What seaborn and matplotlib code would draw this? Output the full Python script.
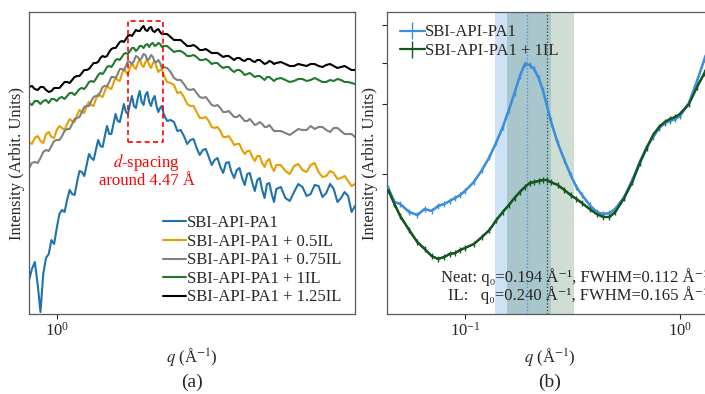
import matplotlib
matplotlib.use("Agg")
import numpy as np
import pandas as pd
import matplotlib.pyplot as plt
import seaborn as sns
from matplotlib.ticker import FixedLocator, NullLocator, NullFormatter, LogFormatterMathtext

# ---------------- data: panel (a) WAXS ----------------
q_waxs = [0.90, 0.91, 0.92, 0.93, 0.94, 0.95, 0.96, 0.97, 0.98, 0.99,
          1.00, 1.01, 1.02, 1.03, 1.04, 1.05, 1.06, 1.07, 1.08, 1.09,
          1.10, 1.11, 1.12, 1.13, 1.14, 1.15, 1.16, 1.17, 1.18, 1.19,
          1.20, 1.21, 1.22, 1.23, 1.24, 1.25, 1.26, 1.27, 1.28, 1.29,
          1.30, 1.31, 1.32, 1.33, 1.34, 1.35, 1.36, 1.37, 1.38, 1.39,
          1.40, 1.41, 1.42, 1.43, 1.44, 1.45, 1.46, 1.47, 1.48, 1.49,
          1.50, 1.52, 1.54, 1.56, 1.58, 1.60, 1.62, 1.64, 1.66, 1.68,
          1.70, 1.72, 1.74, 1.76, 1.78, 1.80, 1.82, 1.84, 1.86, 1.88,
          1.90, 1.92, 1.94, 1.96, 1.98, 2.00, 2.02, 2.04, 2.06, 2.08,
          2.10, 2.12, 2.14, 2.16, 2.18, 2.20, 2.22, 2.24, 2.26, 2.28,
          2.30, 2.34, 2.38, 2.42, 2.46, 2.50, 2.54, 2.58, 2.62, 2.66,
          2.70, 2.74, 2.78, 2.82, 2.86, 2.90, 2.94, 2.98, 3.02, 3.06,
          3.10]
I_neat = [0.34, 0.45, 0.52, 0.30, 0.02, 0.40, 0.56, 0.60, 0.74, 0.70,
          0.86, 1.00, 1.04, 1.02, 1.14, 1.24, 1.20, 1.19, 1.32, 1.43,
          1.42, 1.38, 1.49, 1.60, 1.56, 1.54, 1.64, 1.74, 1.68, 1.67,
          1.78, 1.88, 1.80, 1.80, 1.90, 2.00, 1.93, 1.92, 2.01, 2.10,
          2.02, 2.00, 2.10, 2.18, 2.08, 2.06, 2.16, 2.23, 2.12, 2.09,
          2.19, 2.22, 2.12, 2.08, 2.15, 2.18, 2.08, 2.02, 2.06, 2.08,
          2.00, 1.93, 1.94, 1.92, 1.83, 1.84, 1.78, 1.70, 1.74, 1.75,
          1.66, 1.59, 1.64, 1.65, 1.57, 1.49, 1.54, 1.56, 1.47, 1.41,
          1.51, 1.52, 1.42, 1.36, 1.44, 1.46, 1.36, 1.29, 1.40, 1.41,
          1.31, 1.23, 1.34, 1.36, 1.24, 1.16, 1.30, 1.31, 1.20, 1.12,
          1.25, 1.27, 1.16, 1.13, 1.22, 1.30, 1.27, 1.18, 1.20, 1.29,
          1.28, 1.17, 1.21, 1.30, 1.25, 1.12, 1.16, 1.22, 1.18, 1.02,
          1.08]
I_05IL = [1.72, 1.70, 1.76, 1.78, 1.73, 1.71, 1.80, 1.82, 1.77, 1.76,
          1.84, 1.88, 1.86, 1.84, 1.90, 1.95, 1.93, 1.92, 1.99, 2.04,
          2.02, 2.01, 2.08, 2.12, 2.09, 2.08, 2.15, 2.20, 2.18, 2.17,
          2.23, 2.28, 2.26, 2.25, 2.31, 2.36, 2.34, 2.33, 2.40, 2.45,
          2.42, 2.40, 2.46, 2.51, 2.47, 2.45, 2.51, 2.55, 2.49, 2.47,
          2.52, 2.55, 2.49, 2.46, 2.51, 2.53, 2.47, 2.42, 2.44, 2.45,
          2.39, 2.32, 2.31, 2.29, 2.21, 2.22, 2.17, 2.10, 2.08, 2.08,
          2.02, 1.96, 1.96, 1.97, 1.93, 1.87, 1.86, 1.87, 1.83, 1.77,
          1.77, 1.78, 1.74, 1.69, 1.70, 1.70, 1.64, 1.60, 1.63, 1.63,
          1.57, 1.53, 1.58, 1.58, 1.51, 1.47, 1.53, 1.55, 1.47, 1.43,
          1.49, 1.49, 1.43, 1.40, 1.48, 1.50, 1.44, 1.42, 1.49, 1.51,
          1.42, 1.37, 1.38, 1.43, 1.41, 1.35, 1.36, 1.38, 1.33, 1.28,
          1.30]
I_075IL = [1.46, 1.51, 1.52, 1.51, 1.56, 1.62, 1.64, 1.63, 1.68, 1.73,
           1.74, 1.74, 1.78, 1.83, 1.85, 1.85, 1.90, 1.95, 1.96, 1.97,
           2.02, 2.07, 2.08, 2.08, 2.13, 2.17, 2.18, 2.18, 2.22, 2.27,
           2.28, 2.28, 2.32, 2.37, 2.37, 2.36, 2.40, 2.45, 2.45, 2.44,
           2.48, 2.53, 2.52, 2.50, 2.53, 2.58, 2.57, 2.54, 2.56, 2.60,
           2.59, 2.54, 2.55, 2.59, 2.57, 2.52, 2.52, 2.54, 2.51, 2.46,
           2.47, 2.46, 2.42, 2.36, 2.34, 2.34, 2.30, 2.25, 2.24, 2.25,
           2.21, 2.17, 2.16, 2.17, 2.13, 2.09, 2.08, 2.09, 2.06, 2.02,
           2.02, 2.03, 2.00, 1.97, 1.97, 1.99, 1.96, 1.93, 1.93, 1.95,
           1.92, 1.89, 1.90, 1.92, 1.90, 1.87, 1.87, 1.89, 1.86, 1.83,
           1.83, 1.83, 1.81, 1.79, 1.82, 1.85, 1.84, 1.84, 1.88, 1.85,
           1.87, 1.87, 1.84, 1.82, 1.86, 1.86, 1.83, 1.80, 1.80, 1.80,
           1.77]
I_1IL = [2.11, 2.09, 2.13, 2.13, 2.10, 2.13, 2.14, 2.11, 2.15, 2.15,
         2.13, 2.16, 2.17, 2.15, 2.18, 2.21, 2.21, 2.19, 2.22, 2.25,
         2.26, 2.25, 2.28, 2.32, 2.33, 2.32, 2.35, 2.39, 2.41, 2.40,
         2.43, 2.47, 2.48, 2.47, 2.50, 2.54, 2.55, 2.54, 2.57, 2.60,
         2.61, 2.60, 2.63, 2.66, 2.66, 2.63, 2.65, 2.68, 2.68, 2.66,
         2.69, 2.70, 2.67, 2.70, 2.71, 2.68, 2.69, 2.71, 2.70, 2.67,
         2.68, 2.68, 2.65, 2.62, 2.63, 2.63, 2.61, 2.58, 2.58, 2.59,
         2.57, 2.54, 2.54, 2.55, 2.53, 2.50, 2.51, 2.51, 2.48, 2.46,
         2.47, 2.47, 2.44, 2.42, 2.44, 2.44, 2.42, 2.39, 2.40, 2.41,
         2.39, 2.37, 2.38, 2.38, 2.36, 2.34, 2.37, 2.37, 2.35, 2.33,
         2.35, 2.36, 2.34, 2.32, 2.33, 2.35, 2.35, 2.33, 2.34, 2.36,
         2.34, 2.32, 2.32, 2.34, 2.33, 2.35, 2.34, 2.32, 2.32, 2.31,
         2.30]
I_125IL = [2.27, 2.28, 2.25, 2.24, 2.27, 2.27, 2.24, 2.22, 2.23, 2.26,
           2.26, 2.26, 2.29, 2.32, 2.32, 2.31, 2.34, 2.37, 2.38, 2.38,
           2.41, 2.44, 2.44, 2.45, 2.48, 2.51, 2.51, 2.52, 2.56, 2.58,
           2.57, 2.58, 2.62, 2.65, 2.66, 2.66, 2.69, 2.72, 2.73, 2.72,
           2.75, 2.78, 2.79, 2.78, 2.81, 2.84, 2.83, 2.83, 2.86, 2.88,
           2.84, 2.83, 2.86, 2.87, 2.83, 2.82, 2.84, 2.85, 2.82, 2.80,
           2.80, 2.80, 2.77, 2.74, 2.74, 2.74, 2.71, 2.68, 2.68, 2.69,
           2.67, 2.64, 2.64, 2.65, 2.63, 2.61, 2.61, 2.61, 2.59, 2.57,
           2.58, 2.58, 2.56, 2.54, 2.56, 2.56, 2.54, 2.53, 2.55, 2.55,
           2.53, 2.52, 2.54, 2.54, 2.52, 2.50, 2.51, 2.53, 2.52, 2.50,
           2.51, 2.52, 2.50, 2.48, 2.48, 2.50, 2.49, 2.48, 2.50, 2.50,
           2.48, 2.47, 2.49, 2.50, 2.48, 2.46, 2.47, 2.48, 2.46, 2.44,
           2.44]
labels_a = ["SBI-API-PA1", "SBI-API-PA1 + 0.5IL", "SBI-API-PA1 + 0.75IL",
            "SBI-API-PA1 + 1IL", "SBI-API-PA1 + 1.25IL"]
colors_a = ["#1f72b0", "#e69f00", "#808080", "#1f7a2e", "#000000"]
d_range = [4.8, 4.2]          # d-spacing window (Å) marked by dashed box
d_center = 4.47

# ---------------- data: panel (b) SAXS ----------------
q_saxs = [0.044, 0.047, 0.05, 0.055, 0.06, 0.065, 0.07, 0.075, 0.08, 0.085, 0.09, 0.095, 0.1,
          0.11, 0.12, 0.13, 0.14, 0.15, 0.16, 0.17, 0.18, 0.19, 0.2, 0.21, 0.22, 0.23, 0.24,
          0.25, 0.27, 0.29, 0.31, 0.33, 0.35, 0.38, 0.41, 0.44, 0.47, 0.5, 0.55, 0.6, 0.65,
          0.7, 0.75, 0.8, 0.85, 0.9, 0.95, 1.0, 1.1, 1.2, 1.3, 1.42]
S_neat = [1.26, 1.12, 1.10, 1.02, 0.99, 1.05, 1.03, 1.08, 1.10, 1.13, 1.16, 1.19, 1.23,
          1.32, 1.44, 1.57, 1.72, 1.87, 2.04, 2.21, 2.38, 2.50, 2.49, 2.45, 2.36, 2.24, 2.09,
          1.94, 1.71, 1.54, 1.39, 1.27, 1.19, 1.09, 1.02, 1.00, 1.01, 1.05, 1.17, 1.34, 1.52,
          1.67, 1.77, 1.86, 1.91, 1.93, 1.95, 1.98, 2.11, 2.33, 2.55, 2.78]
S_IL = [1.24, 1.10, 0.98, 0.84, 0.72, 0.65, 0.58, 0.55, 0.57, 0.60, 0.61, 0.64, 0.66,
        0.70, 0.77, 0.84, 0.94, 1.02, 1.09, 1.16, 1.22, 1.27, 1.31, 1.32, 1.33, 1.34, 1.34,
        1.32, 1.29, 1.24, 1.19, 1.15, 1.11, 1.05, 1.00, 0.97, 0.97, 1.02, 1.16, 1.32, 1.51,
        1.66, 1.79, 1.87, 1.92, 1.95, 1.97, 2.00, 2.10, 2.27, 2.41, 2.60]
err_neat = 0.03
err_IL = 0.03
neat_q0, neat_fwhm = 0.194, 0.112
il_q0, il_fwhm = 0.240, 0.165
labels_b = ["SBI-API-PA1", "SBI-API-PA1 + 1IL"]
colors_b = ["#3b8fdc", "#14561f"]

# ---------------- style ----------------
sns.set_theme(style="ticks")
plt.rcParams['font.family'] = ['Liberation Serif', 'DejaVu Serif']
plt.rcParams['mathtext.fontset'] = 'stix'
plt.rcParams['axes.edgecolor'] = '0.35'
plt.rcParams['axes.linewidth'] = 0.9

fig = plt.figure(figsize=(7.05, 3.94), dpi=100)
W, H = 705.0, 394.0
ax1 = fig.add_axes([29 / W, (H - 314) / H, 326 / W, 302 / H])
ax2 = fig.add_axes([387 / W, (H - 314) / H, 326 / W, 302 / H])

# ---------------- panel (a) ----------------
series = [I_neat, I_05IL, I_075IL, I_1IL, I_125IL]
df = pd.concat([pd.DataFrame({"q": q_waxs, "I": s, "sample": lab})
                for s, lab in zip(series, labels_a)], ignore_index=True)
sns.lineplot(data=df, x="q", y="I", hue="sample", hue_order=labels_a,
             palette=colors_a, estimator=None, sort=False, lw=1.5, ax=ax1)
ax1.set_xscale("log")
ax1.set_xlim(0.9, 3.1)
ax1.set_ylim(0, 3.02)
ax1.xaxis.set_major_locator(FixedLocator([1.0]))
ax1.xaxis.set_major_formatter(LogFormatterMathtext())
ax1.xaxis.set_minor_locator(NullLocator())
ax1.set_yticks([])
ax1.tick_params(axis="x", direction="out", length=3.5, width=0.8, labelsize=12, pad=2)
ax1.set_xlabel(r"$q$ (Å$^{-1}$)", fontsize=12, labelpad=5)
ax1.set_ylabel("Intensity (Arbit. Units)", fontsize=12, labelpad=3)

q_lo, q_hi = 2 * np.pi / d_range[0], 2 * np.pi / d_range[1]
ax1.plot([q_lo, q_hi, q_hi, q_lo, q_lo], [1.72, 1.72, 2.93, 2.93, 1.72],
         ls=(0, (3, 2)), color="red", lw=1.2, zorder=5)
ax1.text(2 * np.pi / d_center, 1.44, "$d$-spacing\naround 4.47 Å", color="red",
         ha="center", va="center", fontsize=12, linespacing=1.0)

leg1 = ax1.legend(loc="lower right", bbox_to_anchor=(0.985, 0.0), frameon=False,
                  fontsize=12, handlelength=1.4, handletextpad=0.05,
                  labelspacing=0.15, borderaxespad=0.12)
for h in leg1.get_lines():
    h.set_linewidth(1.5)

# ---------------- panel (b) ----------------
ax2.axvspan(neat_q0 - neat_fwhm / 2, neat_q0 + neat_fwhm / 2, color=colors_b[0],
            alpha=0.25, lw=0, zorder=0)
ax2.axvspan(il_q0 - il_fwhm / 2, il_q0 + il_fwhm / 2, color=colors_b[1],
            alpha=0.2, lw=0, zorder=0)
ax2.axvline(neat_q0, color=colors_b[0], ls=":", lw=0.9, zorder=1)
ax2.axvline(il_q0, color=colors_b[1], ls=":", lw=0.9, zorder=1)

for S, err, c, lab in [(S_neat, err_neat, colors_b[0], labels_b[0]),
                       (S_IL, err_IL, colors_b[1], labels_b[1])]:
    sns.lineplot(x=q_saxs, y=S, color=c, lw=1.6, estimator=None, sort=False, ax=ax2)
    ax2.errorbar(q_saxs, S, yerr=err, color=c, lw=1.6, elinewidth=1.0, capsize=0,
                 label=lab, zorder=3)

ax2.set_xscale("log")
ax2.set_xlim(0.0434, 1.424)
ax2.set_ylim(0, 3.02)
ax2.xaxis.set_major_locator(FixedLocator([0.1, 1.0]))
ax2.xaxis.set_major_formatter(LogFormatterMathtext())
ax2.xaxis.set_minor_locator(NullLocator())
ax2.yaxis.set_major_locator(FixedLocator([1.40, 2.10, 2.51, 2.89]))
ax2.yaxis.set_major_formatter(NullFormatter())
ax2.tick_params(axis="both", direction="out", length=3.5, width=0.8, labelsize=12, pad=2)
ax2.set_xlabel(r"$q$ (Å$^{-1}$)", fontsize=12, labelpad=5)
ax2.set_ylabel("Intensity (Arbit. Units)", fontsize=12, labelpad=1)
ax2.legend(loc="upper left", frameon=False, fontsize=12, handlelength=1.5,
           handletextpad=0.05, labelspacing=0.15, borderaxespad=0.35)

ax2.text(0.985, 0.1225, f"Neat: q\u2080={neat_q0:.3f} Å\u207b\u00b9, FWHM={neat_fwhm:.3f} Å\u207b\u00b9",
         transform=ax2.transAxes, ha="right", va="center", fontsize=12)
ax2.text(0.985, 0.063, f"IL:   q\u2080={il_q0:.3f} Å\u207b\u00b9, FWHM={il_fwhm:.3f} Å\u207b\u00b9",
         transform=ax2.transAxes, ha="right", va="center", fontsize=12)

fig.text(192 / W, 1 - 382 / H, "(a)", ha="center", va="center", fontsize=14)
fig.text(550 / W, 1 - 382 / H, "(b)", ha="center", va="center", fontsize=14)

fig.savefig("out.png", dpi=100)
